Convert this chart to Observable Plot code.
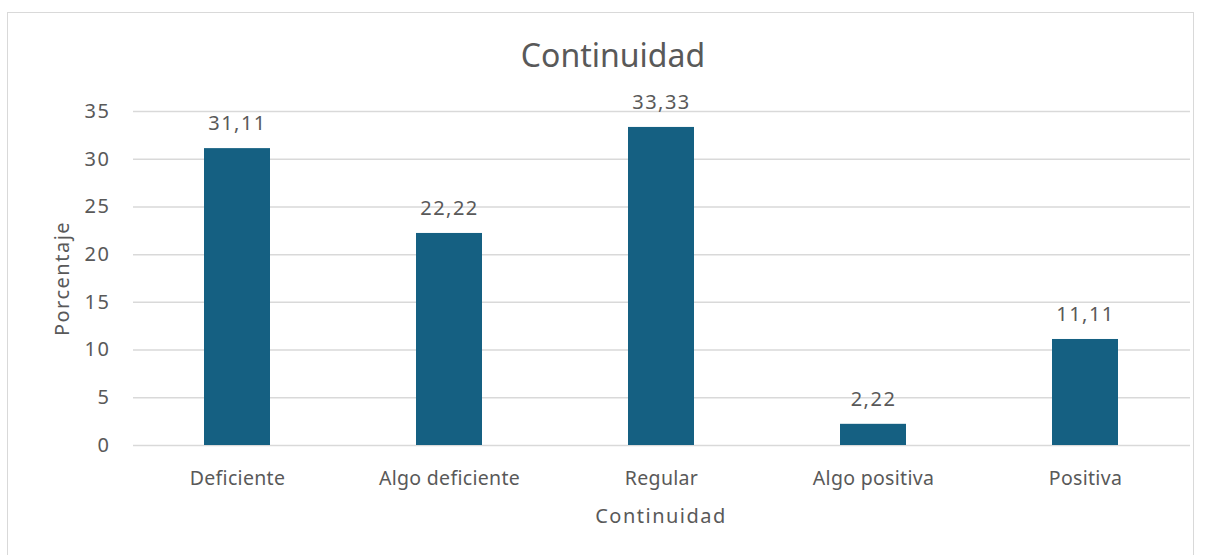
<!DOCTYPE html>
<html>
<head>
<meta charset="utf-8">
<script src="https://cdn.jsdelivr.net/npm/d3@7"></script>
<script src="https://cdn.jsdelivr.net/npm/@observablehq/plot@0.6"></script>
<style>
  html, body { margin: 0; padding: 0; background: #fff; }
  body { width: 1206px; height: 555px; position: relative; overflow: hidden; font-family: "Noto Sans", "Open Sans", sans-serif; }
  #frame { position: absolute; left: 7px; top: 12px; width: 1187px; height: 600px; border: 1.5px solid #d9d9d9; border-bottom: none; box-sizing: border-box; }
  #title { position: absolute; left: 0; width: 1226px; top: 33px; text-align: center; font-size: 32px; color: #595959; line-height: 44px; }
  #chart { position: absolute; left: 0; top: 85px; }
  #chart g[aria-label="y-axis tick label"] text { letter-spacing: 1.6px; }
  #chart g[aria-label="x-axis tick label"] text { letter-spacing: 0.3px; }
  #chart g.valores text, #chart g.titulos text { letter-spacing: 1.5px; }
</style>
</head>
<body>
<div id="frame"></div>
<div id="title">Continuidad</div>
<div id="chart"></div>
<script>
// Porcentaje por nivel de continuidad
const categorias = ["Deficiente", "Algo deficiente", "Regular", "Algo positiva", "Positiva"];
const porcentajes = [31.11, 22.22, 33.33, 2.22, 11.11];
const yTicks = [0, 5, 10, 15, 20, 25, 30, 35];

const datos = categorias.map((c, i) => ({categoria: c, valor: porcentajes[i]}));
const es = d3.formatLocale({decimal: ",", thousands: ".", grouping: [3], currency: ["", " €"]});
const fmt = es.format(".2f");

const gris = "#595959";

const plot = Plot.plot({
  width: 1206,
  height: 470,
  marginTop: 26,
  marginBottom: 110,
  marginLeft: 129,
  marginRight: 14,
  style: {fontFamily: "'Noto Sans', 'Open Sans', sans-serif", fontSize: "20px", color: gris, background: "transparent"},
  x: {domain: categorias, paddingInner: 0.69, paddingOuter: 0.345, label: null},
  y: {domain: [0, 35], ticks: yTicks, label: null},
  marks: [
    Plot.gridY(yTicks, {stroke: "#d9d9d9", strokeOpacity: 1, strokeWidth: 1.5, insetLeft: 4, insetRight: 2}),
    Plot.barY(datos, {x: "categoria", y: "valor", fill: "#156082"}),
    Plot.text(datos, {x: "categoria", y: "valor", text: d => fmt(d.valor), dy: -25, fontSize: 20, fill: gris, className: "valores"}),
    Plot.axisY(yTicks, {tickSize: 0, tickPadding: 19, fontSize: 20, fill: gris, label: null}),
    Plot.axisX({tickSize: 0, tickPadding: 26, fontSize: 19.5, fill: gris, label: null}),
    Plot.text(["Porcentaje"], {frameAnchor: "left", textAnchor: "middle", dx: -67, rotate: -90, fontSize: 20, fill: gris, className: "titulos"}),
    Plot.text(["Continuidad"], {frameAnchor: "bottom", dy: 77, fontSize: 20, fill: gris, className: "titulos"})
  ]
});
document.getElementById("chart").appendChild(plot);
</script>
</body>
</html>
